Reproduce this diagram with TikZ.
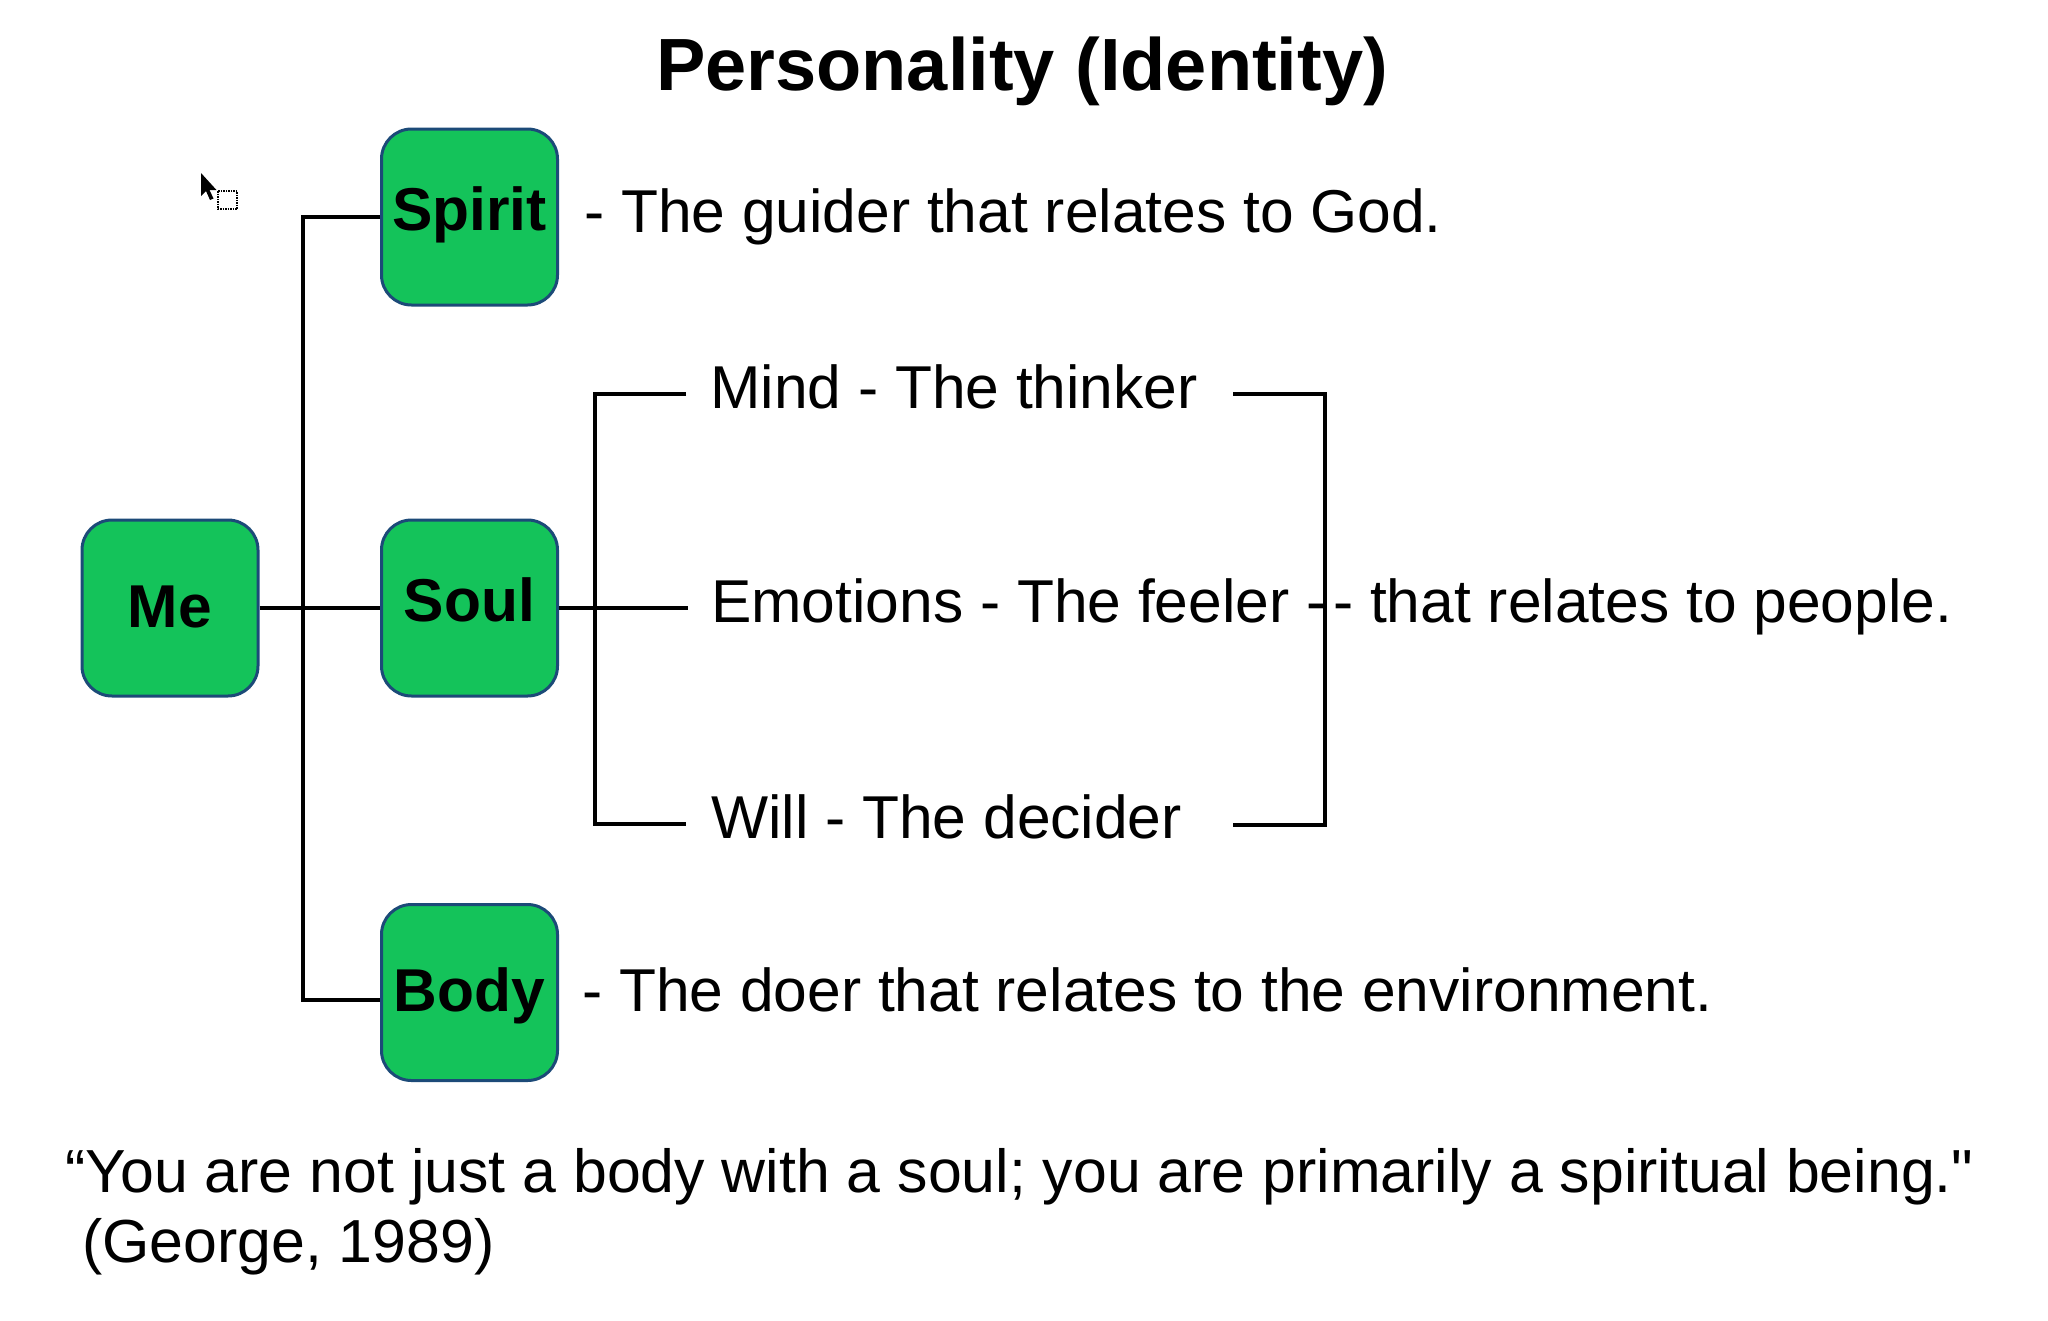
\documentclass[tikz,border=0pt]{standalone}
\usepackage{fontspec}
\setmainfont{Liberation Sans}[Ligatures=TeXOff]
\definecolor{boxgreen}{RGB}{20,195,90}
\definecolor{boxedge}{RGB}{28,74,120}
\begin{document}
\begin{tikzpicture}[x=1pt,y=-1pt,
  box/.style={draw=boxedge, line width=3pt, fill=boxgreen, rounded corners=30pt,
    minimum width=176pt, minimum height=176pt, inner sep=0pt,
    font=\fontsize{60.5}{72}\selectfont\bfseries, text height=43pt, text depth=5pt},
  txt/.style={anchor=base west, inner sep=0pt, font=\fontsize{60.5}{72}\selectfont},
  conn/.style={line width=4pt, black}]
\useasboundingbox (0,0) rectangle (2048,1320);
\fill[white] (0,0) rectangle (2048,1320);

% title
\node[anchor=base, inner sep=0pt, font=\fontsize{74}{88}\selectfont\bfseries] (title) at (1022,90) {Personality (Identity)};

% boxes
\node[box, text depth=16pt] (spirit) at (469.5,217) {Spirit};
\node[box] (me) at (170,608) {Me};
\node[box, text depth=16pt] (soul) at (469.5,608) {Soul};
\node[box] (body) at (469.5,992.5) {Body};

% junction coordinates
\coordinate (trunk) at (303,608);
\coordinate (sb) at (595,608);
\coordinate (mindend) at (686,394);
\coordinate (emoend) at (688,608);
\coordinate (willend) at (686,824);
\coordinate (bt) at (1233,394);
\coordinate (bk) at (1325,608);
\coordinate (bb) at (1233,825);

% connectors
\draw[conn] (spirit.west) -| (trunk) |- ([yshift=-7.5pt]body.west);
\draw[conn] (me.east |- trunk) -- (soul.west |- trunk);
\draw[conn] (soul.east |- sb) -- (emoend);
\draw[conn] (mindend) -| (sb) |- (willend);
\draw[conn] (bt) -| (bk) |- (bb);

% texts
\node[txt] (spiritdesc) at (584,232) {- The guider that relates to God.};
\node[txt] (mind) at (710,408) {Mind - The thinker};
\node[txt] (emo) at (711,622) {Emotions - The feeler -};
\node[txt] (people) at (1333,622) {- that relates to people.};
\node[txt] (will) at (711,838) {Will - The decider};
\node[txt] (bodydesc) at (582,1011) {- The doer that relates to the environment.};
\node[txt, font=\fontsize{60.8}{72}\selectfont] (quote1) at (65,1192) {“You are not just a body with a soul; you are primarily a spiritual being."};
\node[txt, font=\fontsize{60.8}{72}\selectfont] (quote2) at (82,1262) {(George, 1989)};

% cursor
\fill[black] (201,173) -- (201,196) -- (206,191) -- (210,200) -- (213.5,198.5) -- (209.5,190) -- (216.5,190) -- cycle;
\draw[densely dotted, line width=1.5pt, black] (218,191) rectangle (237,209);
\end{tikzpicture}
\end{document}
